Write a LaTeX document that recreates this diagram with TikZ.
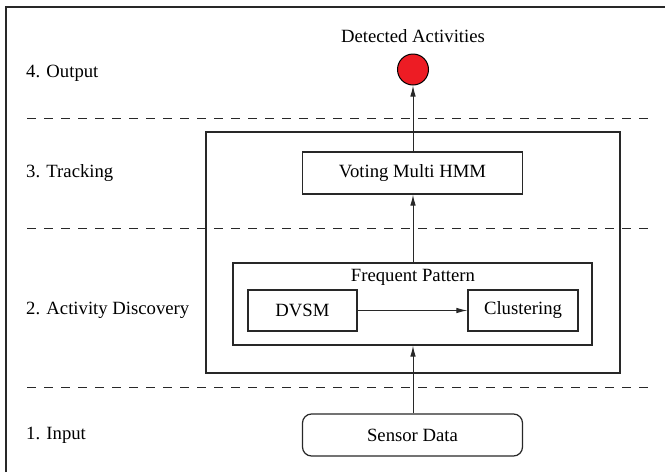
\documentclass[tikz,border=0pt]{standalone}
\usepackage{fontspec}
\setmainfont{Liberation Serif}
\newfontfamily\tnrfont{Liberation Serif}
\usetikzlibrary{arrows.meta}
\definecolor{dotred}{RGB}{237,28,36}
\definecolor{linegray}{RGB}{40,40,40}
\newcommand{\dfont}{\tnrfont\fontsize{18.7}{21}\selectfont}
\tikzset{
  box/.style={draw=linegray, line width=1.2pt, rectangle, inner sep=0pt, font=\dfont},
  rbox/.style={box, rounded corners=9pt},
  lbl/.style={anchor=west, inner sep=0pt, font=\dfont},
  txt/.style={inner sep=0pt, font=\dfont},
  sep/.style={draw=linegray, line width=1pt, dash pattern=on 9pt off 8pt},
  arr/.style={draw=linegray, line width=1pt, -{Latex[length=11pt,width=5.5pt]}},
  frame/.style={draw=linegray, line width=1.5pt}
}
\begin{document}
\begin{tikzpicture}[x=1pt,y=-1pt]
\useasboundingbox (0,0) rectangle (665,472);
% frame
\coordinate (fbl) at (6,472);
\coordinate (ftl) at (6,7);
\coordinate (ftr) at (665,7);
\draw[frame] (fbl) -- (ftl) -- (ftr);
% separators
\coordinate (s1a) at (27,118); \coordinate (s1b) at (648,118);
\coordinate (s2a) at (27,228); \coordinate (s2b) at (648,228);
\coordinate (s3a) at (27,387); \coordinate (s3b) at (648,387);
\draw[sep] (s1a) -- (s1b);
\draw[sep] (s2a) -- (s2b);
\draw[sep] (s3a) -- (s3b);
% layer labels
\node[lbl] (l4) at (26,73) {4. Output};
\node[lbl] (l3) at (26,173) {3. Tracking};
\node[lbl] (l2) at (26,310.5) {2. Activity Discovery};
\node[lbl] (l1) at (26,435) {1. Input};
% boxes
\node[box, minimum width=414pt, minimum height=241pt] (track) at (413,252.5) {};
\node[box, minimum width=220pt, minimum height=42pt] (vote) at (412.5,173) {Voting Multi HMM};
\node[box, minimum width=359pt, minimum height=82pt] (fp) at (412.5,304) {};
\node[txt] (fpt) at (413,277) {Frequent Pattern};
\node[box, minimum width=109pt, minimum height=41pt] (dvsm) at (302.5,310.5) {DVSM};
\node[box, minimum width=110pt, minimum height=41pt] (clus) at (523,310.5) {Clustering};
\node[rbox, minimum width=220pt, minimum height=42pt] (sensor) at (412.5,435) {Sensor Data};
% output
\node[circle, draw=black, line width=1pt, fill=dotred, minimum size=31pt, inner sep=0pt] (out) at (413,69.5) {};
\node[txt] (outt) at (413,36) {Detected Activities};
% connectors
\draw[arr] (sensor.north -| out) -- (fp.south -| out);
\draw[arr] (fp.north -| out) -- (vote.south -| out);
\draw[arr] (vote.north -| out) -- (out.south);
\draw[arr] (dvsm.east) -- (clus.west);
\end{tikzpicture}
\end{document}
